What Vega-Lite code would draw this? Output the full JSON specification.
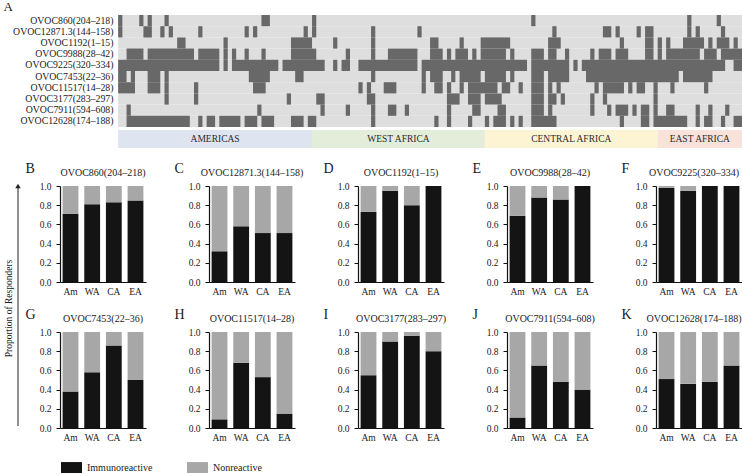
{
"$schema":"https://vega.github.io/schema/vega-lite/v6.json",
"padding":{"left":3,"top":1,"right":0,"bottom":0},
"background":"white",
"config":{"view":{"stroke":null},"font":"Liberation Serif",
 "title":{"fontSize":10,"fontWeight":"normal","color":"#1a1a1a","offset":-17,"font":"Liberation Serif"},
 "axis":{"labelFont":"Liberation Serif","titleFont":"Liberation Serif","labelColor":"#1a1a1a","titleColor":"#1a1a1a","grid":false}},
"datasets":{
"peps":[{"p":"OVOC860(204–218)"},{"p":"OVOC12871.3(144–158)"},{"p":"OVOC1192(1–15)"},{"p":"OVOC9988(28–42)"},{"p":"OVOC9225(320–334)"},{"p":"OVOC7453(22–36)"},{"p":"OVOC11517(14–28)"},{"p":"OVOC3177(283–297)"},{"p":"OVOC7911(594–608)"},{"p":"OVOC12628(174–188)"}],
"regions":[{"r":"AMERICAS","s":0,"e":46},{"r":"WEST AFRICA","s":46,"e":87},{"r":"CENTRAL AFRICA","s":87,"e":128},{"r":"EAST AFRICA","s":128,"e":148}],
"heat":[
{"p":"OVOC860(204–218)","s":0,"e":1},{"p":"OVOC860(204–218)","s":5,"e":6},{"p":"OVOC860(204–218)","s":7,"e":8},{"p":"OVOC860(204–218)","s":11,"e":12},{"p":"OVOC860(204–218)","s":34,"e":36},{"p":"OVOC860(204–218)","s":46,"e":47},{"p":"OVOC860(204–218)","s":98,"e":99},{"p":"OVOC860(204–218)","s":135,"e":136},{"p":"OVOC860(204–218)","s":142,"e":143},
{"p":"OVOC12871.3(144–158)","s":0,"e":1},{"p":"OVOC12871.3(144–158)","s":6,"e":8},{"p":"OVOC12871.3(144–158)","s":10,"e":11},{"p":"OVOC12871.3(144–158)","s":12,"e":13},{"p":"OVOC12871.3(144–158)","s":19,"e":20},{"p":"OVOC12871.3(144–158)","s":30,"e":31},{"p":"OVOC12871.3(144–158)","s":32,"e":33},{"p":"OVOC12871.3(144–158)","s":44,"e":45},{"p":"OVOC12871.3(144–158)","s":46,"e":47},{"p":"OVOC12871.3(144–158)","s":60,"e":61},{"p":"OVOC12871.3(144–158)","s":71,"e":72},{"p":"OVOC12871.3(144–158)","s":103,"e":104},{"p":"OVOC12871.3(144–158)","s":115,"e":117},{"p":"OVOC12871.3(144–158)","s":118,"e":119},{"p":"OVOC12871.3(144–158)","s":123,"e":124},{"p":"OVOC12871.3(144–158)","s":125,"e":127},{"p":"OVOC12871.3(144–158)","s":135,"e":136},{"p":"OVOC12871.3(144–158)","s":137,"e":138},{"p":"OVOC12871.3(144–158)","s":143,"e":144},
{"p":"OVOC1192(1–15)","s":14,"e":16},{"p":"OVOC1192(1–15)","s":25,"e":26},{"p":"OVOC1192(1–15)","s":41,"e":46},{"p":"OVOC1192(1–15)","s":51,"e":52},{"p":"OVOC1192(1–15)","s":60,"e":61},{"p":"OVOC1192(1–15)","s":74,"e":76},{"p":"OVOC1192(1–15)","s":81,"e":82},{"p":"OVOC1192(1–15)","s":86,"e":93},{"p":"OVOC1192(1–15)","s":102,"e":105},{"p":"OVOC1192(1–15)","s":119,"e":120},{"p":"OVOC1192(1–15)","s":125,"e":127},{"p":"OVOC1192(1–15)","s":128,"e":129},{"p":"OVOC1192(1–15)","s":130,"e":131},{"p":"OVOC1192(1–15)","s":134,"e":139},{"p":"OVOC1192(1–15)","s":140,"e":141},{"p":"OVOC1192(1–15)","s":142,"e":145},{"p":"OVOC1192(1–15)","s":146,"e":147},
{"p":"OVOC9988(28–42)","s":2,"e":6},{"p":"OVOC9988(28–42)","s":7,"e":18},{"p":"OVOC9988(28–42)","s":19,"e":24},{"p":"OVOC9988(28–42)","s":25,"e":26},{"p":"OVOC9988(28–42)","s":27,"e":28},{"p":"OVOC9988(28–42)","s":30,"e":31},{"p":"OVOC9988(28–42)","s":34,"e":35},{"p":"OVOC9988(28–42)","s":41,"e":47},{"p":"OVOC9988(28–42)","s":54,"e":55},{"p":"OVOC9988(28–42)","s":60,"e":61},{"p":"OVOC9988(28–42)","s":64,"e":71},{"p":"OVOC9988(28–42)","s":74,"e":77},{"p":"OVOC9988(28–42)","s":78,"e":79},{"p":"OVOC9988(28–42)","s":80,"e":83},{"p":"OVOC9988(28–42)","s":84,"e":85},{"p":"OVOC9988(28–42)","s":86,"e":92},{"p":"OVOC9988(28–42)","s":93,"e":94},{"p":"OVOC9988(28–42)","s":98,"e":101},{"p":"OVOC9988(28–42)","s":102,"e":104},{"p":"OVOC9988(28–42)","s":106,"e":107},{"p":"OVOC9988(28–42)","s":112,"e":113},{"p":"OVOC9988(28–42)","s":114,"e":117},{"p":"OVOC9988(28–42)","s":118,"e":121},{"p":"OVOC9988(28–42)","s":125,"e":127},{"p":"OVOC9988(28–42)","s":128,"e":129},{"p":"OVOC9988(28–42)","s":130,"e":138},{"p":"OVOC9988(28–42)","s":139,"e":142},{"p":"OVOC9988(28–42)","s":143,"e":148},
{"p":"OVOC9225(320–334)","s":0,"e":24},{"p":"OVOC9225(320–334)","s":25,"e":26},{"p":"OVOC9225(320–334)","s":27,"e":38},{"p":"OVOC9225(320–334)","s":39,"e":49},{"p":"OVOC9225(320–334)","s":51,"e":52},{"p":"OVOC9225(320–334)","s":53,"e":55},{"p":"OVOC9225(320–334)","s":57,"e":71},{"p":"OVOC9225(320–334)","s":72,"e":97},{"p":"OVOC9225(320–334)","s":98,"e":107},{"p":"OVOC9225(320–334)","s":108,"e":109},{"p":"OVOC9225(320–334)","s":110,"e":144},{"p":"OVOC9225(320–334)","s":146,"e":148},
{"p":"OVOC7453(22–36)","s":0,"e":2},{"p":"OVOC7453(22–36)","s":3,"e":4},{"p":"OVOC7453(22–36)","s":7,"e":10},{"p":"OVOC7453(22–36)","s":11,"e":12},{"p":"OVOC7453(22–36)","s":31,"e":36},{"p":"OVOC7453(22–36)","s":42,"e":44},{"p":"OVOC7453(22–36)","s":60,"e":61},{"p":"OVOC7453(22–36)","s":72,"e":73},{"p":"OVOC7453(22–36)","s":74,"e":77},{"p":"OVOC7453(22–36)","s":79,"e":80},{"p":"OVOC7453(22–36)","s":81,"e":86},{"p":"OVOC7453(22–36)","s":87,"e":92},{"p":"OVOC7453(22–36)","s":93,"e":94},{"p":"OVOC7453(22–36)","s":98,"e":101},{"p":"OVOC7453(22–36)","s":102,"e":107},{"p":"OVOC7453(22–36)","s":111,"e":133},{"p":"OVOC7453(22–36)","s":134,"e":141},
{"p":"OVOC11517(14–28)","s":0,"e":4},{"p":"OVOC11517(14–28)","s":7,"e":10},{"p":"OVOC11517(14–28)","s":11,"e":12},{"p":"OVOC11517(14–28)","s":18,"e":19},{"p":"OVOC11517(14–28)","s":32,"e":35},{"p":"OVOC11517(14–28)","s":57,"e":58},{"p":"OVOC11517(14–28)","s":59,"e":60},{"p":"OVOC11517(14–28)","s":63,"e":66},{"p":"OVOC11517(14–28)","s":72,"e":73},{"p":"OVOC11517(14–28)","s":75,"e":77},{"p":"OVOC11517(14–28)","s":78,"e":79},{"p":"OVOC11517(14–28)","s":81,"e":82},{"p":"OVOC11517(14–28)","s":83,"e":90},{"p":"OVOC11517(14–28)","s":91,"e":93},{"p":"OVOC11517(14–28)","s":95,"e":96},{"p":"OVOC11517(14–28)","s":98,"e":101},{"p":"OVOC11517(14–28)","s":102,"e":103},{"p":"OVOC11517(14–28)","s":104,"e":105},{"p":"OVOC11517(14–28)","s":113,"e":114},{"p":"OVOC11517(14–28)","s":115,"e":120},{"p":"OVOC11517(14–28)","s":121,"e":122},{"p":"OVOC11517(14–28)","s":123,"e":125},{"p":"OVOC11517(14–28)","s":127,"e":128},{"p":"OVOC11517(14–28)","s":131,"e":132},{"p":"OVOC11517(14–28)","s":139,"e":140},
{"p":"OVOC3177(283–297)","s":11,"e":12},{"p":"OVOC3177(283–297)","s":18,"e":19},{"p":"OVOC3177(283–297)","s":40,"e":41},{"p":"OVOC3177(283–297)","s":47,"e":49},{"p":"OVOC3177(283–297)","s":59,"e":61},{"p":"OVOC3177(283–297)","s":78,"e":81},{"p":"OVOC3177(283–297)","s":83,"e":86},{"p":"OVOC3177(283–297)","s":87,"e":91},{"p":"OVOC3177(283–297)","s":98,"e":101},{"p":"OVOC3177(283–297)","s":102,"e":104},{"p":"OVOC3177(283–297)","s":105,"e":106},{"p":"OVOC3177(283–297)","s":112,"e":113},{"p":"OVOC3177(283–297)","s":115,"e":116},{"p":"OVOC3177(283–297)","s":127,"e":128},
{"p":"OVOC7911(594–608)","s":2,"e":3},{"p":"OVOC7911(594–608)","s":33,"e":34},{"p":"OVOC7911(594–608)","s":48,"e":49},{"p":"OVOC7911(594–608)","s":54,"e":55},{"p":"OVOC7911(594–608)","s":60,"e":61},{"p":"OVOC7911(594–608)","s":64,"e":66},{"p":"OVOC7911(594–608)","s":68,"e":69},{"p":"OVOC7911(594–608)","s":78,"e":79},{"p":"OVOC7911(594–608)","s":84,"e":86},{"p":"OVOC7911(594–608)","s":90,"e":92},{"p":"OVOC7911(594–608)","s":98,"e":101},{"p":"OVOC7911(594–608)","s":102,"e":103},{"p":"OVOC7911(594–608)","s":112,"e":113},{"p":"OVOC7911(594–608)","s":116,"e":117},{"p":"OVOC7911(594–608)","s":118,"e":121},{"p":"OVOC7911(594–608)","s":122,"e":123},{"p":"OVOC7911(594–608)","s":124,"e":126},{"p":"OVOC7911(594–608)","s":127,"e":128},{"p":"OVOC7911(594–608)","s":130,"e":132},{"p":"OVOC7911(594–608)","s":137,"e":138},{"p":"OVOC7911(594–608)","s":140,"e":141},{"p":"OVOC7911(594–608)","s":144,"e":145},
{"p":"OVOC12628(174–188)","s":2,"e":17},{"p":"OVOC12628(174–188)","s":19,"e":20},{"p":"OVOC12628(174–188)","s":21,"e":23},{"p":"OVOC12628(174–188)","s":24,"e":29},{"p":"OVOC12628(174–188)","s":30,"e":33},{"p":"OVOC12628(174–188)","s":34,"e":37},{"p":"OVOC12628(174–188)","s":41,"e":44},{"p":"OVOC12628(174–188)","s":45,"e":47},{"p":"OVOC12628(174–188)","s":60,"e":61},{"p":"OVOC12628(174–188)","s":75,"e":76},{"p":"OVOC12628(174–188)","s":78,"e":79},{"p":"OVOC12628(174–188)","s":83,"e":84},{"p":"OVOC12628(174–188)","s":87,"e":88},{"p":"OVOC12628(174–188)","s":89,"e":92},{"p":"OVOC12628(174–188)","s":93,"e":94},{"p":"OVOC12628(174–188)","s":95,"e":96},{"p":"OVOC12628(174–188)","s":98,"e":104},{"p":"OVOC12628(174–188)","s":119,"e":120},{"p":"OVOC12628(174–188)","s":124,"e":126},{"p":"OVOC12628(174–188)","s":127,"e":135},{"p":"OVOC12628(174–188)","s":137,"e":138},{"p":"OVOC12628(174–188)","s":139,"e":141},{"p":"OVOC12628(174–188)","s":143,"e":144},{"p":"OVOC12628(174–188)","s":146,"e":148}
],
"bars":[
{"p":"OVOC860(204–218)","r":"Am","s":"Immunoreactive","v":0.71},{"p":"OVOC860(204–218)","r":"Am","s":"Nonreactive","v":0.29},
{"p":"OVOC860(204–218)","r":"WA","s":"Immunoreactive","v":0.81},{"p":"OVOC860(204–218)","r":"WA","s":"Nonreactive","v":0.19},
{"p":"OVOC860(204–218)","r":"CA","s":"Immunoreactive","v":0.83},{"p":"OVOC860(204–218)","r":"CA","s":"Nonreactive","v":0.17},
{"p":"OVOC860(204–218)","r":"EA","s":"Immunoreactive","v":0.85},{"p":"OVOC860(204–218)","r":"EA","s":"Nonreactive","v":0.15},
{"p":"OVOC12871.3(144–158)","r":"Am","s":"Immunoreactive","v":0.32},{"p":"OVOC12871.3(144–158)","r":"Am","s":"Nonreactive","v":0.68},
{"p":"OVOC12871.3(144–158)","r":"WA","s":"Immunoreactive","v":0.58},{"p":"OVOC12871.3(144–158)","r":"WA","s":"Nonreactive","v":0.42},
{"p":"OVOC12871.3(144–158)","r":"CA","s":"Immunoreactive","v":0.51},{"p":"OVOC12871.3(144–158)","r":"CA","s":"Nonreactive","v":0.49},
{"p":"OVOC12871.3(144–158)","r":"EA","s":"Immunoreactive","v":0.51},{"p":"OVOC12871.3(144–158)","r":"EA","s":"Nonreactive","v":0.49},
{"p":"OVOC1192(1–15)","r":"Am","s":"Immunoreactive","v":0.73},{"p":"OVOC1192(1–15)","r":"Am","s":"Nonreactive","v":0.27},
{"p":"OVOC1192(1–15)","r":"WA","s":"Immunoreactive","v":0.95},{"p":"OVOC1192(1–15)","r":"WA","s":"Nonreactive","v":0.05},
{"p":"OVOC1192(1–15)","r":"CA","s":"Immunoreactive","v":0.8},{"p":"OVOC1192(1–15)","r":"CA","s":"Nonreactive","v":0.2},
{"p":"OVOC1192(1–15)","r":"EA","s":"Immunoreactive","v":1.0},{"p":"OVOC1192(1–15)","r":"EA","s":"Nonreactive","v":0.0},
{"p":"OVOC9988(28–42)","r":"Am","s":"Immunoreactive","v":0.69},{"p":"OVOC9988(28–42)","r":"Am","s":"Nonreactive","v":0.31},
{"p":"OVOC9988(28–42)","r":"WA","s":"Immunoreactive","v":0.88},{"p":"OVOC9988(28–42)","r":"WA","s":"Nonreactive","v":0.12},
{"p":"OVOC9988(28–42)","r":"CA","s":"Immunoreactive","v":0.86},{"p":"OVOC9988(28–42)","r":"CA","s":"Nonreactive","v":0.14},
{"p":"OVOC9988(28–42)","r":"EA","s":"Immunoreactive","v":1.0},{"p":"OVOC9988(28–42)","r":"EA","s":"Nonreactive","v":0.0},
{"p":"OVOC9225(320–334)","r":"Am","s":"Immunoreactive","v":0.98},{"p":"OVOC9225(320–334)","r":"Am","s":"Nonreactive","v":0.02},
{"p":"OVOC9225(320–334)","r":"WA","s":"Immunoreactive","v":0.95},{"p":"OVOC9225(320–334)","r":"WA","s":"Nonreactive","v":0.05},
{"p":"OVOC9225(320–334)","r":"CA","s":"Immunoreactive","v":1.0},{"p":"OVOC9225(320–334)","r":"CA","s":"Nonreactive","v":0.0},
{"p":"OVOC9225(320–334)","r":"EA","s":"Immunoreactive","v":1.0},{"p":"OVOC9225(320–334)","r":"EA","s":"Nonreactive","v":0.0},
{"p":"OVOC7453(22–36)","r":"Am","s":"Immunoreactive","v":0.38},{"p":"OVOC7453(22–36)","r":"Am","s":"Nonreactive","v":0.62},
{"p":"OVOC7453(22–36)","r":"WA","s":"Immunoreactive","v":0.58},{"p":"OVOC7453(22–36)","r":"WA","s":"Nonreactive","v":0.42},
{"p":"OVOC7453(22–36)","r":"CA","s":"Immunoreactive","v":0.86},{"p":"OVOC7453(22–36)","r":"CA","s":"Nonreactive","v":0.14},
{"p":"OVOC7453(22–36)","r":"EA","s":"Immunoreactive","v":0.5},{"p":"OVOC7453(22–36)","r":"EA","s":"Nonreactive","v":0.5},
{"p":"OVOC11517(14–28)","r":"Am","s":"Immunoreactive","v":0.09},{"p":"OVOC11517(14–28)","r":"Am","s":"Nonreactive","v":0.91},
{"p":"OVOC11517(14–28)","r":"WA","s":"Immunoreactive","v":0.68},{"p":"OVOC11517(14–28)","r":"WA","s":"Nonreactive","v":0.32},
{"p":"OVOC11517(14–28)","r":"CA","s":"Immunoreactive","v":0.53},{"p":"OVOC11517(14–28)","r":"CA","s":"Nonreactive","v":0.47},
{"p":"OVOC11517(14–28)","r":"EA","s":"Immunoreactive","v":0.15},{"p":"OVOC11517(14–28)","r":"EA","s":"Nonreactive","v":0.85},
{"p":"OVOC3177(283–297)","r":"Am","s":"Immunoreactive","v":0.55},{"p":"OVOC3177(283–297)","r":"Am","s":"Nonreactive","v":0.45},
{"p":"OVOC3177(283–297)","r":"WA","s":"Immunoreactive","v":0.9},{"p":"OVOC3177(283–297)","r":"WA","s":"Nonreactive","v":0.1},
{"p":"OVOC3177(283–297)","r":"CA","s":"Immunoreactive","v":0.96},{"p":"OVOC3177(283–297)","r":"CA","s":"Nonreactive","v":0.04},
{"p":"OVOC3177(283–297)","r":"EA","s":"Immunoreactive","v":0.8},{"p":"OVOC3177(283–297)","r":"EA","s":"Nonreactive","v":0.2},
{"p":"OVOC7911(594–608)","r":"Am","s":"Immunoreactive","v":0.11},{"p":"OVOC7911(594–608)","r":"Am","s":"Nonreactive","v":0.89},
{"p":"OVOC7911(594–608)","r":"WA","s":"Immunoreactive","v":0.65},{"p":"OVOC7911(594–608)","r":"WA","s":"Nonreactive","v":0.35},
{"p":"OVOC7911(594–608)","r":"CA","s":"Immunoreactive","v":0.48},{"p":"OVOC7911(594–608)","r":"CA","s":"Nonreactive","v":0.52},
{"p":"OVOC7911(594–608)","r":"EA","s":"Immunoreactive","v":0.4},{"p":"OVOC7911(594–608)","r":"EA","s":"Nonreactive","v":0.6},
{"p":"OVOC12628(174–188)","r":"Am","s":"Immunoreactive","v":0.51},{"p":"OVOC12628(174–188)","r":"Am","s":"Nonreactive","v":0.49},
{"p":"OVOC12628(174–188)","r":"WA","s":"Immunoreactive","v":0.46},{"p":"OVOC12628(174–188)","r":"WA","s":"Nonreactive","v":0.54},
{"p":"OVOC12628(174–188)","r":"CA","s":"Immunoreactive","v":0.48},{"p":"OVOC12628(174–188)","r":"CA","s":"Nonreactive","v":0.52},
{"p":"OVOC12628(174–188)","r":"EA","s":"Immunoreactive","v":0.65},{"p":"OVOC12628(174–188)","r":"EA","s":"Nonreactive","v":0.35}
]},
"columns":1,
"align":"none",
"spacing":13,
"concat":[
{"bounds":"flush","spacing":3,"vconcat":[
 {"width":727,"height":112,
  "title":{"text":"A","anchor":"start","frame":"bounds","fontSize":13,"dx":-9,"offset":1},
  "layer":[
   {"data":{"name":"peps"},"mark":{"type":"rect","color":"#dedede"},
    "encoding":{"y":{"field":"p","type":"nominal","scale":{"domain":["OVOC860(204–218)","OVOC12871.3(144–158)","OVOC1192(1–15)","OVOC9988(28–42)","OVOC9225(320–334)","OVOC7453(22–36)","OVOC11517(14–28)","OVOC3177(283–297)","OVOC7911(594–608)","OVOC12628(174–188)"],"paddingInner":0,"paddingOuter":0},"axis":{"title":null,"ticks":false,"domain":false,"labelFontSize":9.8,"labelPadding":5,"offset":-103}},
     "x":{"datum":0,"type":"quantitative","scale":{"domain":[-24.468,148],"nice":false,"zero":false},"axis":null},"x2":{"datum":148}}},
   {"data":{"name":"heat"},"mark":{"type":"rect","color":"#686868"},
    "encoding":{"y":{"field":"p","type":"nominal"},"x":{"field":"s","type":"quantitative"},"x2":{"field":"e"}}}
  ]},
 {"width":727,"height":18,"data":{"name":"regions"},
  "layer":[
   {"mark":{"type":"rect"},"encoding":{"x":{"field":"s","type":"quantitative","scale":{"domain":[-24.468,148],"nice":false,"zero":false},"axis":null},"x2":{"field":"e"},
     "fill":{"field":"r","type":"nominal","scale":{"domain":["AMERICAS","WEST AFRICA","CENTRAL AFRICA","EAST AFRICA"],"range":["#dfe4f1","#e4edda","#fcf4d3","#f8e2da"]},"legend":null}}},
   {"transform":[{"calculate":"(datum.s + datum.e) / 2","as":"m"}],"mark":{"type":"text","fontSize":9.5,"color":"#2a2a2a","baseline":"middle","font":"Liberation Serif"},
    "encoding":{"x":{"field":"m","type":"quantitative"},"text":{"field":"r"}}}
  ]}
]},
{"spacing":4,"hconcat":[
 {"width":6,"height":240,"data":{"values":[{}]},
  "layer":[
   {"mark":{"type":"rule","color":"#222","strokeWidth":1},
    "encoding":{"x":{"datum":0.5,"type":"quantitative","scale":{"domain":[0,1]},"axis":null},
     "y":{"datum":0,"type":"quantitative","scale":{"domain":[0,1]},"axis":{"title":"Proportion of Responders","domain":false,"ticks":false,"labels":false,"titlePadding":2,"titleFontSize":9.5,"titleFontWeight":"normal","titleY":122}},
     "y2":{"datum":1}}},
   {"mark":{"type":"point","shape":"triangle-up","filled":true,"color":"#222","size":30,"opacity":1},
    "encoding":{"x":{"datum":0.5,"type":"quantitative"},"y":{"datum":1,"type":"quantitative"}}}
  ]},
 {"columns":5,"bounds":"flush","spacing":{"row":50,"column":63},"concat":[
   {"width":86,"height":96,"data":{"name":"bars"},"title":{"text":"OVOC860(204–218)"},"transform":[{"filter":"datum.p==='OVOC860(204–218)'"}],"mark":"bar",
    "encoding":{"x":{"field":"r","type":"nominal","sort":["Am","WA","CA","EA"],"scale":{"paddingInner":0.27,"paddingOuter":0.12},"axis":{"title":null,"labelAngle":0,"ticks":false,"domainColor":"#111","domainWidth":1.2,"labelFontSize":9.5,"labelPadding":4}},
     "y":{"field":"v","type":"quantitative","stack":"zero","scale":{"domain":[0,1],"nice":false},"axis":{"title":"B","values":[0,0.2,0.4,0.6,0.8,1],"format":".1f","domainColor":"#111","domainWidth":1.2,"tickColor":"#111","tickSize":4,"labelFontSize":9.5,"labelPadding":5,"titleAngle":0,"titleFontSize":14,"titleFontWeight":"normal","titleAlign":"left","titleBaseline":"middle","titleX":-35,"titleY":-18}},
     "color":{"field":"s","type":"nominal","scale":{"domain":["Immunoreactive","Nonreactive"],"range":["#141414","#a7a7a7"]},"legend":{"orient":"none","legendX":46,"legendY":442,"direction":"horizontal","title":null,"symbolType":"M-1,-0.52L1,-0.52L1,0.52L-1,0.52Z","symbolSize":441,"symbolStrokeWidth":0,"labelFontSize":10,"labelFont":"Liberation Serif","labelColor":"#1a1a1a","columnPadding":34,"labelOffset":5}},
     "order":{"field":"s","sort":"ascending"}}},
   {"width":86,"height":96,"data":{"name":"bars"},"title":{"text":"OVOC12871.3(144–158)"},"transform":[{"filter":"datum.p==='OVOC12871.3(144–158)'"}],"mark":"bar",
    "encoding":{"x":{"field":"r","type":"nominal","sort":["Am","WA","CA","EA"],"scale":{"paddingInner":0.27,"paddingOuter":0.12},"axis":{"title":null,"labelAngle":0,"ticks":false,"domainColor":"#111","domainWidth":1.2,"labelFontSize":9.5,"labelPadding":4}},
     "y":{"field":"v","type":"quantitative","stack":"zero","scale":{"domain":[0,1],"nice":false},"axis":{"title":"C","values":[0,0.2,0.4,0.6,0.8,1],"format":".1f","domainColor":"#111","domainWidth":1.2,"tickColor":"#111","tickSize":4,"labelFontSize":9.5,"labelPadding":5,"titleAngle":0,"titleFontSize":14,"titleFontWeight":"normal","titleAlign":"left","titleBaseline":"middle","titleX":-35,"titleY":-18}},
     "color":{"field":"s","type":"nominal","scale":{"domain":["Immunoreactive","Nonreactive"],"range":["#141414","#a7a7a7"]},"legend":{"orient":"none","legendX":46,"legendY":442,"direction":"horizontal","title":null,"symbolType":"M-1,-0.52L1,-0.52L1,0.52L-1,0.52Z","symbolSize":441,"symbolStrokeWidth":0,"labelFontSize":10,"labelFont":"Liberation Serif","labelColor":"#1a1a1a","columnPadding":34,"labelOffset":5}},
     "order":{"field":"s","sort":"ascending"}}},
   {"width":86,"height":96,"data":{"name":"bars"},"title":{"text":"OVOC1192(1–15)"},"transform":[{"filter":"datum.p==='OVOC1192(1–15)'"}],"mark":"bar",
    "encoding":{"x":{"field":"r","type":"nominal","sort":["Am","WA","CA","EA"],"scale":{"paddingInner":0.27,"paddingOuter":0.12},"axis":{"title":null,"labelAngle":0,"ticks":false,"domainColor":"#111","domainWidth":1.2,"labelFontSize":9.5,"labelPadding":4}},
     "y":{"field":"v","type":"quantitative","stack":"zero","scale":{"domain":[0,1],"nice":false},"axis":{"title":"D","values":[0,0.2,0.4,0.6,0.8,1],"format":".1f","domainColor":"#111","domainWidth":1.2,"tickColor":"#111","tickSize":4,"labelFontSize":9.5,"labelPadding":5,"titleAngle":0,"titleFontSize":14,"titleFontWeight":"normal","titleAlign":"left","titleBaseline":"middle","titleX":-35,"titleY":-18}},
     "color":{"field":"s","type":"nominal","scale":{"domain":["Immunoreactive","Nonreactive"],"range":["#141414","#a7a7a7"]},"legend":{"orient":"none","legendX":46,"legendY":442,"direction":"horizontal","title":null,"symbolType":"M-1,-0.52L1,-0.52L1,0.52L-1,0.52Z","symbolSize":441,"symbolStrokeWidth":0,"labelFontSize":10,"labelFont":"Liberation Serif","labelColor":"#1a1a1a","columnPadding":34,"labelOffset":5}},
     "order":{"field":"s","sort":"ascending"}}},
   {"width":86,"height":96,"data":{"name":"bars"},"title":{"text":"OVOC9988(28–42)"},"transform":[{"filter":"datum.p==='OVOC9988(28–42)'"}],"mark":"bar",
    "encoding":{"x":{"field":"r","type":"nominal","sort":["Am","WA","CA","EA"],"scale":{"paddingInner":0.27,"paddingOuter":0.12},"axis":{"title":null,"labelAngle":0,"ticks":false,"domainColor":"#111","domainWidth":1.2,"labelFontSize":9.5,"labelPadding":4}},
     "y":{"field":"v","type":"quantitative","stack":"zero","scale":{"domain":[0,1],"nice":false},"axis":{"title":"E","values":[0,0.2,0.4,0.6,0.8,1],"format":".1f","domainColor":"#111","domainWidth":1.2,"tickColor":"#111","tickSize":4,"labelFontSize":9.5,"labelPadding":5,"titleAngle":0,"titleFontSize":14,"titleFontWeight":"normal","titleAlign":"left","titleBaseline":"middle","titleX":-35,"titleY":-18}},
     "color":{"field":"s","type":"nominal","scale":{"domain":["Immunoreactive","Nonreactive"],"range":["#141414","#a7a7a7"]},"legend":{"orient":"none","legendX":46,"legendY":442,"direction":"horizontal","title":null,"symbolType":"M-1,-0.52L1,-0.52L1,0.52L-1,0.52Z","symbolSize":441,"symbolStrokeWidth":0,"labelFontSize":10,"labelFont":"Liberation Serif","labelColor":"#1a1a1a","columnPadding":34,"labelOffset":5}},
     "order":{"field":"s","sort":"ascending"}}},
   {"width":86,"height":96,"data":{"name":"bars"},"title":{"text":"OVOC9225(320–334)","dx":-5},"transform":[{"filter":"datum.p==='OVOC9225(320–334)'"}],"mark":"bar",
    "encoding":{"x":{"field":"r","type":"nominal","sort":["Am","WA","CA","EA"],"scale":{"paddingInner":0.27,"paddingOuter":0.12},"axis":{"title":null,"labelAngle":0,"ticks":false,"domainColor":"#111","domainWidth":1.2,"labelFontSize":9.5,"labelPadding":4}},
     "y":{"field":"v","type":"quantitative","stack":"zero","scale":{"domain":[0,1],"nice":false},"axis":{"title":"F","values":[0,0.2,0.4,0.6,0.8,1],"format":".1f","domainColor":"#111","domainWidth":1.2,"tickColor":"#111","tickSize":4,"labelFontSize":9.5,"labelPadding":5,"titleAngle":0,"titleFontSize":14,"titleFontWeight":"normal","titleAlign":"left","titleBaseline":"middle","titleX":-35,"titleY":-18}},
     "color":{"field":"s","type":"nominal","scale":{"domain":["Immunoreactive","Nonreactive"],"range":["#141414","#a7a7a7"]},"legend":{"orient":"none","legendX":46,"legendY":442,"direction":"horizontal","title":null,"symbolType":"M-1,-0.52L1,-0.52L1,0.52L-1,0.52Z","symbolSize":441,"symbolStrokeWidth":0,"labelFontSize":10,"labelFont":"Liberation Serif","labelColor":"#1a1a1a","columnPadding":34,"labelOffset":5}},
     "order":{"field":"s","sort":"ascending"}}},
   {"width":86,"height":96,"data":{"name":"bars"},"title":{"text":"OVOC7453(22–36)"},"transform":[{"filter":"datum.p==='OVOC7453(22–36)'"}],"mark":"bar",
    "encoding":{"x":{"field":"r","type":"nominal","sort":["Am","WA","CA","EA"],"scale":{"paddingInner":0.27,"paddingOuter":0.12},"axis":{"title":null,"labelAngle":0,"ticks":false,"domainColor":"#111","domainWidth":1.2,"labelFontSize":9.5,"labelPadding":4}},
     "y":{"field":"v","type":"quantitative","stack":"zero","scale":{"domain":[0,1],"nice":false},"axis":{"title":"G","values":[0,0.2,0.4,0.6,0.8,1],"format":".1f","domainColor":"#111","domainWidth":1.2,"tickColor":"#111","tickSize":4,"labelFontSize":9.5,"labelPadding":5,"titleAngle":0,"titleFontSize":14,"titleFontWeight":"normal","titleAlign":"left","titleBaseline":"middle","titleX":-35,"titleY":-18}},
     "color":{"field":"s","type":"nominal","scale":{"domain":["Immunoreactive","Nonreactive"],"range":["#141414","#a7a7a7"]},"legend":{"orient":"none","legendX":46,"legendY":442,"direction":"horizontal","title":null,"symbolType":"M-1,-0.52L1,-0.52L1,0.52L-1,0.52Z","symbolSize":441,"symbolStrokeWidth":0,"labelFontSize":10,"labelFont":"Liberation Serif","labelColor":"#1a1a1a","columnPadding":34,"labelOffset":5}},
     "order":{"field":"s","sort":"ascending"}}},
   {"width":86,"height":96,"data":{"name":"bars"},"title":{"text":"OVOC11517(14–28)"},"transform":[{"filter":"datum.p==='OVOC11517(14–28)'"}],"mark":"bar",
    "encoding":{"x":{"field":"r","type":"nominal","sort":["Am","WA","CA","EA"],"scale":{"paddingInner":0.27,"paddingOuter":0.12},"axis":{"title":null,"labelAngle":0,"ticks":false,"domainColor":"#111","domainWidth":1.2,"labelFontSize":9.5,"labelPadding":4}},
     "y":{"field":"v","type":"quantitative","stack":"zero","scale":{"domain":[0,1],"nice":false},"axis":{"title":"H","values":[0,0.2,0.4,0.6,0.8,1],"format":".1f","domainColor":"#111","domainWidth":1.2,"tickColor":"#111","tickSize":4,"labelFontSize":9.5,"labelPadding":5,"titleAngle":0,"titleFontSize":14,"titleFontWeight":"normal","titleAlign":"left","titleBaseline":"middle","titleX":-35,"titleY":-18}},
     "color":{"field":"s","type":"nominal","scale":{"domain":["Immunoreactive","Nonreactive"],"range":["#141414","#a7a7a7"]},"legend":{"orient":"none","legendX":46,"legendY":442,"direction":"horizontal","title":null,"symbolType":"M-1,-0.52L1,-0.52L1,0.52L-1,0.52Z","symbolSize":441,"symbolStrokeWidth":0,"labelFontSize":10,"labelFont":"Liberation Serif","labelColor":"#1a1a1a","columnPadding":34,"labelOffset":5}},
     "order":{"field":"s","sort":"ascending"}}},
   {"width":86,"height":96,"data":{"name":"bars"},"title":{"text":"OVOC3177(283–297)"},"transform":[{"filter":"datum.p==='OVOC3177(283–297)'"}],"mark":"bar",
    "encoding":{"x":{"field":"r","type":"nominal","sort":["Am","WA","CA","EA"],"scale":{"paddingInner":0.27,"paddingOuter":0.12},"axis":{"title":null,"labelAngle":0,"ticks":false,"domainColor":"#111","domainWidth":1.2,"labelFontSize":9.5,"labelPadding":4}},
     "y":{"field":"v","type":"quantitative","stack":"zero","scale":{"domain":[0,1],"nice":false},"axis":{"title":"I","values":[0,0.2,0.4,0.6,0.8,1],"format":".1f","domainColor":"#111","domainWidth":1.2,"tickColor":"#111","tickSize":4,"labelFontSize":9.5,"labelPadding":5,"titleAngle":0,"titleFontSize":14,"titleFontWeight":"normal","titleAlign":"left","titleBaseline":"middle","titleX":-35,"titleY":-18}},
     "color":{"field":"s","type":"nominal","scale":{"domain":["Immunoreactive","Nonreactive"],"range":["#141414","#a7a7a7"]},"legend":{"orient":"none","legendX":46,"legendY":442,"direction":"horizontal","title":null,"symbolType":"M-1,-0.52L1,-0.52L1,0.52L-1,0.52Z","symbolSize":441,"symbolStrokeWidth":0,"labelFontSize":10,"labelFont":"Liberation Serif","labelColor":"#1a1a1a","columnPadding":34,"labelOffset":5}},
     "order":{"field":"s","sort":"ascending"}}},
   {"width":86,"height":96,"data":{"name":"bars"},"title":{"text":"OVOC7911(594–608)"},"transform":[{"filter":"datum.p==='OVOC7911(594–608)'"}],"mark":"bar",
    "encoding":{"x":{"field":"r","type":"nominal","sort":["Am","WA","CA","EA"],"scale":{"paddingInner":0.27,"paddingOuter":0.12},"axis":{"title":null,"labelAngle":0,"ticks":false,"domainColor":"#111","domainWidth":1.2,"labelFontSize":9.5,"labelPadding":4}},
     "y":{"field":"v","type":"quantitative","stack":"zero","scale":{"domain":[0,1],"nice":false},"axis":{"title":"J","values":[0,0.2,0.4,0.6,0.8,1],"format":".1f","domainColor":"#111","domainWidth":1.2,"tickColor":"#111","tickSize":4,"labelFontSize":9.5,"labelPadding":5,"titleAngle":0,"titleFontSize":14,"titleFontWeight":"normal","titleAlign":"left","titleBaseline":"middle","titleX":-35,"titleY":-18}},
     "color":{"field":"s","type":"nominal","scale":{"domain":["Immunoreactive","Nonreactive"],"range":["#141414","#a7a7a7"]},"legend":{"orient":"none","legendX":46,"legendY":442,"direction":"horizontal","title":null,"symbolType":"M-1,-0.52L1,-0.52L1,0.52L-1,0.52Z","symbolSize":441,"symbolStrokeWidth":0,"labelFontSize":10,"labelFont":"Liberation Serif","labelColor":"#1a1a1a","columnPadding":34,"labelOffset":5}},
     "order":{"field":"s","sort":"ascending"}}},
   {"width":86,"height":96,"data":{"name":"bars"},"title":{"text":"OVOC12628(174–188)","dx":-5},"transform":[{"filter":"datum.p==='OVOC12628(174–188)'"}],"mark":"bar",
    "encoding":{"x":{"field":"r","type":"nominal","sort":["Am","WA","CA","EA"],"scale":{"paddingInner":0.27,"paddingOuter":0.12},"axis":{"title":null,"labelAngle":0,"ticks":false,"domainColor":"#111","domainWidth":1.2,"labelFontSize":9.5,"labelPadding":4}},
     "y":{"field":"v","type":"quantitative","stack":"zero","scale":{"domain":[0,1],"nice":false},"axis":{"title":"K","values":[0,0.2,0.4,0.6,0.8,1],"format":".1f","domainColor":"#111","domainWidth":1.2,"tickColor":"#111","tickSize":4,"labelFontSize":9.5,"labelPadding":5,"titleAngle":0,"titleFontSize":14,"titleFontWeight":"normal","titleAlign":"left","titleBaseline":"middle","titleX":-35,"titleY":-18}},
     "color":{"field":"s","type":"nominal","scale":{"domain":["Immunoreactive","Nonreactive"],"range":["#141414","#a7a7a7"]},"legend":{"orient":"none","legendX":46,"legendY":442,"direction":"horizontal","title":null,"symbolType":"M-1,-0.52L1,-0.52L1,0.52L-1,0.52Z","symbolSize":441,"symbolStrokeWidth":0,"labelFontSize":10,"labelFont":"Liberation Serif","labelColor":"#1a1a1a","columnPadding":34,"labelOffset":5}},
     "order":{"field":"s","sort":"ascending"}}}
 ]}
]}
]
}
